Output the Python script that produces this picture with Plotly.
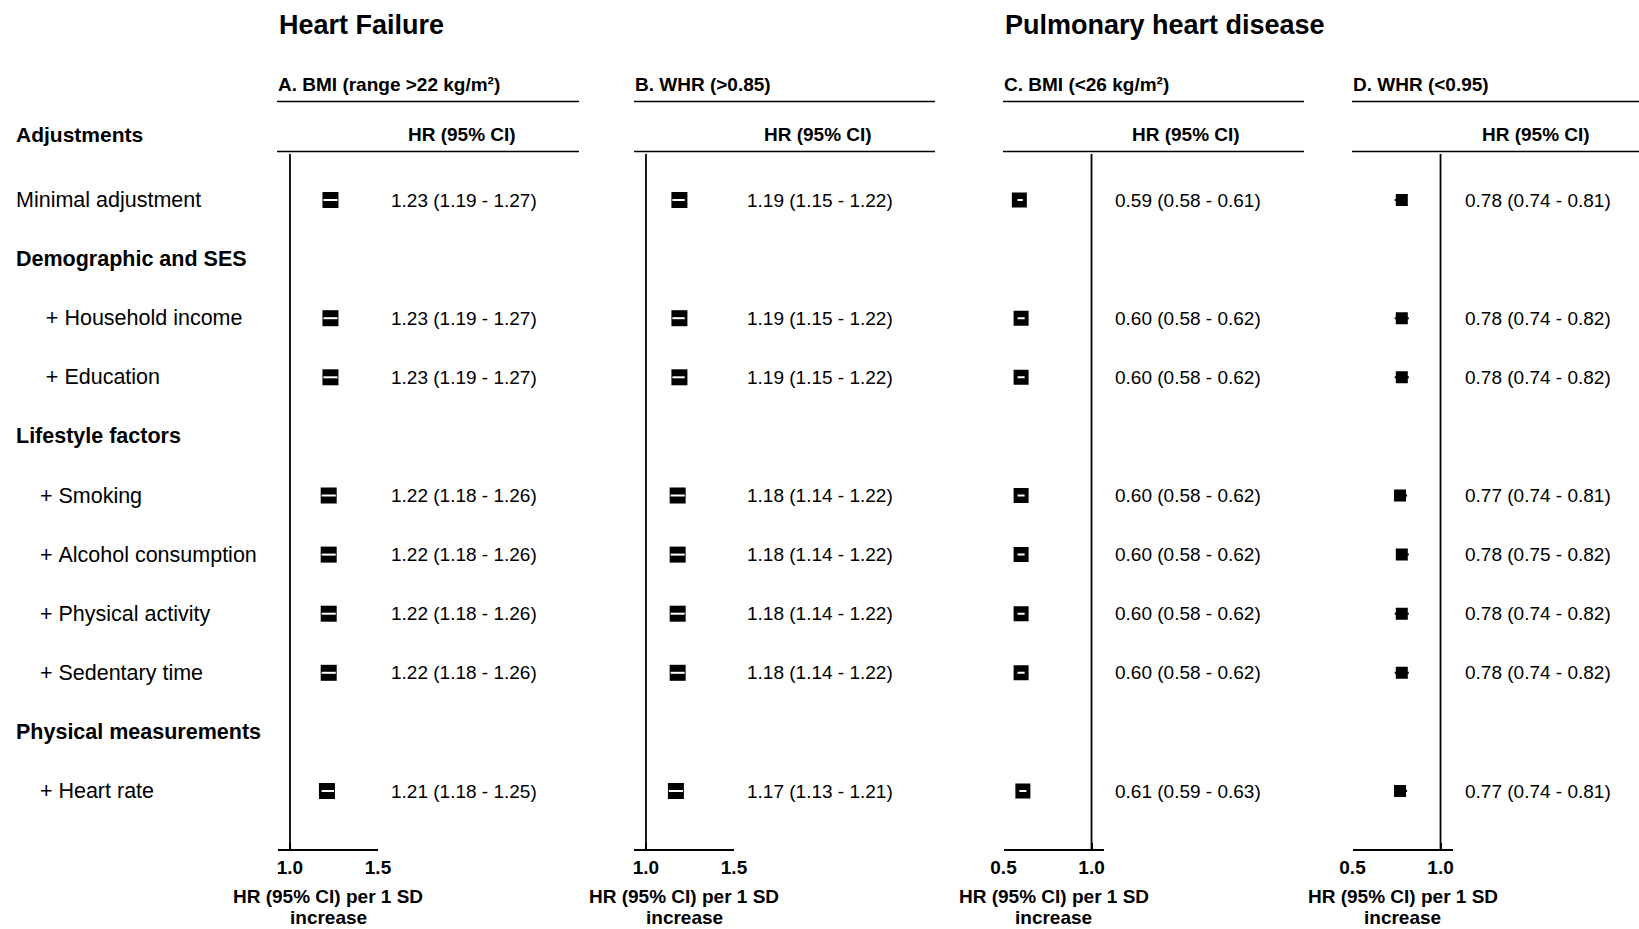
import plotly.graph_objects as go

# ---------------------------------------------------------------------------
# Data: hazard ratios (95% CI) per 1 SD increase, sequentially adjusted models
# ---------------------------------------------------------------------------
table_rows = [
    ("Minimal adjustment", "item"),
    ("Demographic and SES", "group"),
    ("     + Household income", "item"),
    ("     + Education", "item"),
    ("Lifestyle factors", "group"),
    ("    + Smoking", "item"),
    ("    + Alcohol consumption", "item"),
    ("    + Physical activity", "item"),
    ("    + Sedentary time", "item"),
    ("Physical measurements", "group"),
    ("    + Heart rate", "item"),
]

# A. Heart failure, BMI (range >22 kg/m²)
hf_bmi_hr = [1.23, 1.23, 1.23, 1.22, 1.22, 1.22, 1.22, 1.21]
hf_bmi_lo = [1.19, 1.19, 1.19, 1.18, 1.18, 1.18, 1.18, 1.18]
hf_bmi_hi = [1.27, 1.27, 1.27, 1.26, 1.26, 1.26, 1.26, 1.25]

# B. Heart failure, WHR (>0.85)
hf_whr_hr = [1.19, 1.19, 1.19, 1.18, 1.18, 1.18, 1.18, 1.17]
hf_whr_lo = [1.15, 1.15, 1.15, 1.14, 1.14, 1.14, 1.14, 1.13]
hf_whr_hi = [1.22, 1.22, 1.22, 1.22, 1.22, 1.22, 1.22, 1.21]

# C. Pulmonary heart disease, BMI (<26 kg/m²)
phd_bmi_hr = [0.59, 0.60, 0.60, 0.60, 0.60, 0.60, 0.60, 0.61]
phd_bmi_lo = [0.58, 0.58, 0.58, 0.58, 0.58, 0.58, 0.58, 0.59]
phd_bmi_hi = [0.61, 0.62, 0.62, 0.62, 0.62, 0.62, 0.62, 0.63]

# D. Pulmonary heart disease, WHR (<0.95)
phd_whr_hr = [0.78, 0.78, 0.78, 0.77, 0.78, 0.78, 0.78, 0.77]
phd_whr_lo = [0.74, 0.74, 0.74, 0.74, 0.75, 0.74, 0.74, 0.74]
phd_whr_hi = [0.81, 0.82, 0.82, 0.81, 0.82, 0.82, 0.82, 0.81]

panel_titles = ["A. BMI (range >22 kg/m²)", "B. WHR (>0.85)",
                "C. BMI (<26 kg/m²)", "D. WHR (<0.95)"]
outcome_titles = ["Heart Failure", "Pulmonary heart disease"]
axis_title_lines = ["HR (95% CI) per 1 SD", "increase"]
column_header = "HR (95% CI)"

# ---------------------------------------------------------------------------
# Page geometry (pixels) and styling
# ---------------------------------------------------------------------------
W, H = 1639, 929
FONT = "Liberation Sans, Arial, Helvetica, sans-serif"
ROW0_PX, ROW_STEP = 200.0, 59.1          # first row centre and row pitch
TOP_PX, AXIS_PX = 154.0, 849.0           # top of plot strip, x-axis line


def px(x):
    return x / W


def py(y):
    return 1 - y / H


def row_of(pix):
    return (pix - ROW0_PX) / ROW_STEP


panels = [
    dict(hr=hf_bmi_hr, lo=hf_bmi_lo, hi=hf_bmi_hi, dom=(278, 378),
         rng=(0.932, 1.5), ticks=[1.0, 1.5], box=16,
         line=(277, 579), text_x=391),
    dict(hr=hf_whr_hr, lo=hf_whr_lo, hi=hf_whr_hi, dom=(634, 734),
         rng=(0.932, 1.5), ticks=[1.0, 1.5], box=16,
         line=(634, 935), text_x=746.5),
    dict(hr=phd_bmi_hr, lo=phd_bmi_lo, hi=phd_bmi_hi, dom=(1003.5, 1103.5),
         rng=(0.5, 1.068), ticks=[0.5, 1.0], box=15,
         line=(1003, 1304), text_x=1115),
    dict(hr=phd_whr_hr, lo=phd_whr_lo, hi=phd_whr_hi, dom=(1352.5, 1452.5),
         rng=(0.5, 1.068), ticks=[0.5, 1.0], box=12,
         line=(1352, 1639), text_x=1464.5),
]

item_rows = [i for i, (_, kind) in enumerate(table_rows) if kind == "item"]

fig = go.Figure()
shapes, annotations = [], []
layout_axes = {}

for k, p in enumerate(panels):
    xa = "x" if k == 0 else f"x{k + 1}"
    xa_key = "xaxis" if k == 0 else f"xaxis{k + 1}"

    # px per data unit, to decide how the CI line shows against the box
    scale = (p["dom"][1] - p["dom"][0]) / (p["rng"][1] - p["rng"][0])
    half_box = p["box"] / 2 / scale

    white_x, white_y, black_x, black_y = [], [], [], []
    for r, h, lo, hi in zip(item_rows, p["hr"], p["lo"], p["hi"]):
        inside = (lo >= h - half_box) and (hi <= h + half_box)
        if inside:
            white_x += [lo, hi, None]
            white_y += [r, r, None]
        else:
            black_x += [lo, hi, None]
            black_y += [r, r, None]

    if black_x:
        fig.add_trace(go.Scatter(
            x=black_x, y=black_y, mode="lines", xaxis=xa, yaxis="y",
            line=dict(color="black", width=2), hoverinfo="skip",
            showlegend=False))
    fig.add_trace(go.Scatter(
        x=p["hr"], y=item_rows, mode="markers", xaxis=xa, yaxis="y",
        marker=dict(symbol="square", size=p["box"], color="black",
                    line=dict(width=0)),
        showlegend=False,
        hovertemplate="HR %{x:.2f}<extra></extra>"))
    if white_x:
        fig.add_trace(go.Scatter(
            x=white_x, y=white_y, mode="lines", xaxis=xa, yaxis="y",
            line=dict(color="white", width=2), hoverinfo="skip",
            showlegend=False))

    # x axis: line from range start to end, ticks pointing up at both ends
    tv = sorted(set([p["rng"][0], p["rng"][1]] + p["ticks"]))
    tt = [f"<b>{v:.1f}</b>" if v in p["ticks"] else "" for v in tv]
    layout_axes[xa_key] = dict(
        domain=[px(p["dom"][0]), px(p["dom"][1])],
        range=list(p["rng"]), anchor="y", showline=True, linecolor="black",
        linewidth=1.7, ticks="inside", ticklen=6, tickwidth=1.7,
        tickcolor="black", tickvals=tv, ticktext=tt, automargin=False,
        tickfont=dict(family=FONT, size=19, color="black"),
        showgrid=False, zeroline=False, fixedrange=True)

    # reference line at HR = 1
    shapes.append(dict(type="line", xref=xa, yref="paper", x0=1, x1=1,
                       y0=py(AXIS_PX), y1=py(TOP_PX),
                       line=dict(color="black", width=1.8)))

    # header rules
    for yy in (101.5, 151.5):
        shapes.append(dict(type="line", xref="paper", yref="paper",
                           x0=px(p["line"][0]), x1=px(p["line"][1]),
                           y0=py(yy), y1=py(yy),
                           line=dict(color="black", width=1.7)))

    # panel sub-title and column header
    annotations.append(dict(
        text=f"<b>{panel_titles[k]}</b>", xref="paper", yref="paper",
        x=px(p["line"][0] - 1), y=py(84), xanchor="left", yanchor="middle",
        showarrow=False, font=dict(family=FONT, size=19, color="black")))
    annotations.append(dict(
        text=f"<b>{column_header}</b>", xref="paper", yref="paper",
        x=px(p["text_x"] + 71), y=py(134), xanchor="center",
        yanchor="middle", showarrow=False,
        font=dict(family=FONT, size=19, color="black")))

    # HR (95% CI) text for every model
    for r, h, lo, hi in zip(item_rows, p["hr"], p["lo"], p["hi"]):
        annotations.append(dict(
            text=f"{h:.2f} ({lo:.2f} - {hi:.2f})", xref="paper", yref="y",
            x=px(p["text_x"]), y=r, xanchor="left", yanchor="middle",
            showarrow=False, borderpad=0, borderwidth=0,
            font=dict(family=FONT, size=19, color="black")))

    # axis title under each panel, two centred lines
    for line_text, yy in zip(axis_title_lines, (896.5, 917)):
        annotations.append(dict(
            text=f"<b>{line_text}</b>", xref=f"{xa} domain", yref="paper",
            x=0.5, y=py(yy), xanchor="center", yanchor="middle",
            showarrow=False, borderpad=0, borderwidth=0,
            font=dict(family=FONT, size=19, color="black")))

# outcome titles
for title, x0 in zip(outcome_titles, (277, 1002.5)):
    annotations.append(dict(
        text=f"<b>{title}</b>", xref="paper", yref="paper", x=px(x0),
        y=py(25), xanchor="left", yanchor="middle", showarrow=False,
        font=dict(family=FONT, size=27, color="black")))

# left-hand table of adjustments
annotations.append(dict(
    text="<b>Adjustments</b>", xref="paper", yref="paper", x=px(14),
    y=py(134), xanchor="left", yanchor="middle", showarrow=False,
    font=dict(family=FONT, size=21, color="black")))
for r, (label, kind) in enumerate(table_rows):
    shown = label.replace(" ", "\u00a0")
    if kind == "group":
        shown = f"<b>{shown}</b>"
    annotations.append(dict(
        text=shown, xref="paper", yref="y", x=px(14), y=r,
        xanchor="left", yanchor="middle", showarrow=False,
        font=dict(family=FONT, size=21.5, color="black")))

fig.update_layout(
    width=W, height=H,
    margin=dict(l=0, r=0, t=0, b=0, pad=0, autoexpand=False),
    paper_bgcolor="white", plot_bgcolor="white", showlegend=False,
    yaxis=dict(domain=[py(AXIS_PX), py(TOP_PX)],
               range=[row_of(AXIS_PX), row_of(TOP_PX)], visible=False,
               automargin=False, fixedrange=True),
    shapes=shapes, annotations=annotations,
    **layout_axes,
)

fig.write_html("out.html")
